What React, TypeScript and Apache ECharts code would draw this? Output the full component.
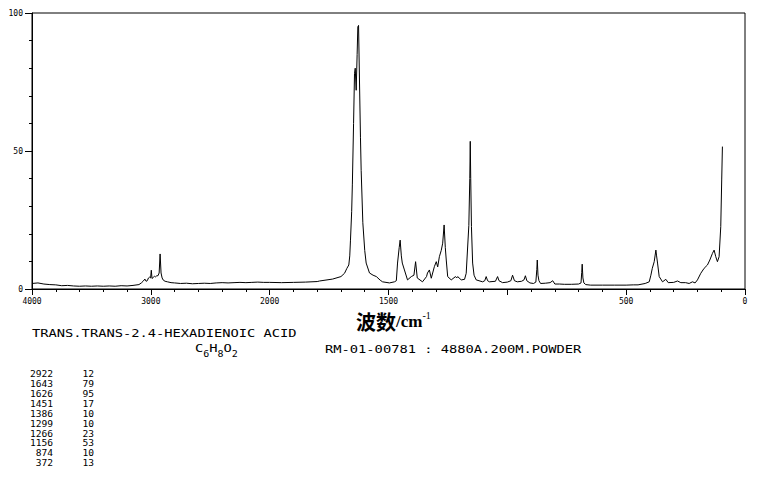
import React, { useEffect, useRef } from 'react';
import * as echarts from 'echarts';

// Raman spectrum (wavenumber cm-1, relative intensity)
const spectrumWn = [
  4000, 3950, 3900, 3850, 3800, 3750, 3700, 3650, 3600, 3550, 3500, 3450, 3400, 3350, 3300, 3250, 3200, 3150, 3100,
  3080, 3065, 3050, 3040, 3030, 3020, 3010, 3002, 2996, 2990, 2980, 2970, 2960, 2950, 2940, 2930, 2922, 2914, 2905,
  2895, 2880, 2860, 2830, 2800, 2750, 2700, 2650, 2600, 2550, 2500, 2450, 2400, 2350, 2300, 2250, 2200, 2150, 2100,
  2050, 2000, 1950, 1900, 1850, 1800, 1790, 1735, 1700, 1685, 1675, 1667, 1663, 1660, 1655, 1652, 1647, 1643, 1640,
  1636, 1632, 1629, 1626, 1622, 1618, 1615, 1608, 1600, 1594, 1580, 1565, 1551, 1535, 1525, 1496, 1475, 1467, 1462,
  1455, 1451, 1446, 1442, 1433, 1420, 1404, 1393, 1386, 1379, 1357, 1340, 1336, 1328, 1320, 1307, 1299, 1293, 1286,
  1278, 1272, 1266, 1261, 1257, 1251, 1236, 1218, 1213, 1209, 1194, 1180, 1173, 1162, 1158, 1156, 1154, 1151, 1146,
  1140, 1131, 1104, 1095, 1089, 1083, 1075, 1050, 1041, 1035, 1020, 1000, 985, 978, 970, 958, 940, 930, 924, 918,
  905, 890, 880, 876, 874, 871, 867, 860, 840, 820, 809, 800, 780, 760, 730, 700, 690, 687, 685, 682, 678, 670, 650,
  600, 550, 500, 470, 450, 420, 403, 396, 390, 382, 375, 372, 368, 361, 347, 333, 323, 300, 284, 270, 250, 235, 221,
  210, 200, 186, 172, 158, 148, 137, 130, 123, 116, 109, 102, 98, 95,
];
const spectrumInt = [
  2.0, 2.2, 1.8, 1.6, 1.5, 1.2, 1.3, 1.1, 1.0, 1.1, 1.0, 1.1, 1.0, 1.1, 1.0, 1.2, 1.1, 1.3, 1.6,
  2.2, 2.8, 3.6, 2.8, 3.0, 4.0, 4.3, 4.0, 6.8, 3.8, 4.2, 4.6, 4.4, 4.8, 4.8, 5.8, 12.7, 5.8, 4.0,
  3.2, 2.8, 2.6, 2.3, 2.2, 2.0, 2.1, 1.9, 2.0, 2.1, 2.0, 2.2, 2.3, 2.2, 2.3, 2.4, 2.3, 2.4, 2.5,
  2.4, 2.4, 2.3, 2.4, 2.5, 2.7, 2.9, 3.6, 4.5, 5.7, 7.5, 8.7, 12, 17.7, 28, 38, 60, 78, 80,
  72, 85, 95, 95.5, 75, 55, 43, 24, 14, 9.4, 5.8, 5.0, 4.5, 3.2, 2.6, 2.2, 2.6, 3.0, 9.4,
  15, 17.7, 12, 9.4, 6.9, 3.3, 4.5, 5.0, 9.9, 4.0, 2.6, 4.5, 5.8, 6.9, 3.9, 8.1, 9.9, 8.0, 11.7,
  14, 16.6, 23.2, 15, 10.5, 4.5, 3.3, 4.5, 4.0, 4.5, 3.3, 3.5, 5.7, 23, 40, 53.5, 40, 22.6, 9.4,
  5.0, 3.3, 2.6, 3.0, 4.5, 3.0, 2.6, 2.8, 4.5, 3.0, 2.3, 2.5, 3.0, 5.0, 3.0, 2.6, 2.8, 3.3, 4.8, 3.0,
  2.2, 2.0, 2.5, 7, 10.5, 5, 3.0, 2.0, 2.1, 2.3, 3.0, 1.8, 1.8, 1.7, 1.7, 1.8, 2.2, 6, 9.0, 4, 2.2, 1.6, 1.4,
  1.4, 1.4, 1.4, 1.5, 1.5, 2.0, 2.6, 5.0, 7.5, 9.9, 14.1, 12, 9.4, 4.5, 2.6, 3.5, 2.3, 2.4, 2.9, 2.3, 2.3, 2.0, 2.6,
  2.2, 3.3, 5.7, 7.5, 8.7, 10.5, 12.9, 14.1, 11.7, 9.9, 11.7, 22.6, 39.5, 51.6,
];

const xTickLabels = [4000, 3000, 2000, 1500, 500, 0];
const yTickLabels = [0, 50, 100];

const peakWn = ['2922', '1643', '1626', '1451', '1386', '1299', '1266', '1156', '874', '372'];
const peakInt = ['12', '79', '95', '17', '10', '10', '23', '53', '10', '13'];

const compoundName = 'TRANS.TRANS-2.4-HEXADIENOIC ACID';
const formulaParts = [
  ['C', '6'],
  ['H', '8'],
  ['O', '2'],
];
const sampleInfo = 'RM-01-00781 : 4880A.200M.POWDER';

// The instrument's axis: 4000–2000 cm-1 drawn at half the scale of 2000–0 cm-1.
const toAxis = (wn: number) => (wn >= 2000 ? (4000 - wn) / 2 : 3000 - wn);
const fromAxis = (d: number) => (d <= 1000 ? 4000 - 2 * d : 3000 - d);

const MONO = '"DejaVu Sans Mono", "Liberation Mono", monospace';

export default function App() {
  const ref = useRef<HTMLDivElement>(null);

  useEffect(() => {
    if (!ref.current) return;
    const chart = echarts.init(ref.current, null, { renderer: 'svg' });

    const formulaRich = formulaParts.map(([el, n]) => `{m|${el}}{s|${n}}`).join('');

    const option: any = {
      animation: false,
      backgroundColor: '#fff',
      grid: {
        left: 32,
        top: 13,
        width: 713,
        height: 276,
        show: true,
        borderColor: '#000',
        borderWidth: 1,
        backgroundColor: 'transparent',
      },
      xAxis: {
        type: 'value',
        min: 0,
        max: 3000,
        interval: 500,
        axisLine: { show: true, onZero: false, lineStyle: { color: '#000', width: 1 } },
        axisTick: { show: true, length: 6, lineStyle: { color: '#000', width: 1 } },
        minorTick: { show: true, splitNumber: 5, length: 3, lineStyle: { color: '#000', width: 1 } },
        axisLabel: {
          show: true,
          hideOverlap: false,
          formatter: (v: number) => {
            const wn = Math.round(fromAxis(v));
            return xTickLabels.indexOf(wn) >= 0 ? String(wn) : '';
          },
          fontFamily: MONO,
          fontSize: 8,
          color: '#000',
          margin: 8,
        },
        splitLine: { show: false },
        minorSplitLine: { show: false },
      },
      yAxis: {
        type: 'value',
        min: 0,
        max: 100,
        interval: 50,
        axisLine: { show: true, lineStyle: { color: '#000', width: 1 } },
        axisTick: { show: true, length: 7, lineStyle: { color: '#000', width: 1 } },
        minorTick: { show: true, splitNumber: 5, length: 3, lineStyle: { color: '#000', width: 1 } },
        axisLabel: {
          customValues: yTickLabels,
          fontFamily: MONO,
          fontSize: 8,
          color: '#000',
          margin: 9,
        },
        splitLine: { show: false },
        minorSplitLine: { show: false },
      },
      series: [
        {
          type: 'line',
          data: spectrumWn.map((w, i) => [toAxis(w), spectrumInt[i]]),
          showSymbol: false,
          symbol: 'none',
          lineStyle: { color: '#000', width: 1 },
          silent: true,
        },
      ],
      graphic: [
        {
          type: 'text',
          x: 356,
          y: 310,
          style: {
            text: '{a|波数}{b|/cm}{c|-1}',
            fill: '#000',
            verticalAlign: 'top',
            rich: {
              a: { fontFamily: '"Noto Sans CJK SC"', fontWeight: 'bold', fontSize: 20, fill: '#000', lineHeight: 22 },
              b: { fontFamily: '"Liberation Serif", serif', fontWeight: 'bold', fontSize: 17, fill: '#000', lineHeight: 22 },
              c: { fontFamily: '"Liberation Serif", serif', fontSize: 10, fill: '#000', verticalAlign: 'top', lineHeight: 12 },
            },
          },
        },
        {
          type: 'text',
          x: 32,
          y: 333,
          scaleX: 1.25,
          style: { text: compoundName, fontFamily: MONO, fontSize: 11, fill: '#000', align: 'left', verticalAlign: 'middle' },
        },
        {
          type: 'text',
          x: 195,
          y: 343,
          scaleX: 1.25,
          style: {
            text: formulaRich,
            fill: '#000',
            align: 'left',
            verticalAlign: 'top',
            rich: {
              m: { fontFamily: MONO, fontSize: 11, fill: '#000', lineHeight: 15, verticalAlign: 'top' },
              s: { fontFamily: MONO, fontSize: 8, fill: '#000', lineHeight: 8, verticalAlign: 'bottom' },
            },
          },
        },
        {
          type: 'text',
          x: 325,
          y: 349,
          scaleX: 1.25,
          style: { text: sampleInfo, fontFamily: MONO, fontSize: 11, fill: '#000', align: 'left', verticalAlign: 'middle' },
        },
        {
          type: 'text',
          x: 53,
          y: 369.5,
          scaleX: 1.2,
          style: {
            text: peakWn.join('\n'),
            fontFamily: MONO,
            fontSize: 8,
            lineHeight: 9.9,
            fill: '#000',
            align: 'right',
            verticalAlign: 'top',
          },
        },
        {
          type: 'text',
          x: 94,
          y: 369.5,
          scaleX: 1.2,
          style: {
            text: peakInt.join('\n'),
            fontFamily: MONO,
            fontSize: 8,
            lineHeight: 9.9,
            fill: '#000',
            align: 'right',
            verticalAlign: 'top',
          },
        },
      ],
    };

    chart.setOption(option);
    return () => chart.dispose();
  }, []);

  return (
    <div
      ref={ref}
      style={{ position: 'absolute', left: 0, top: 0, width: 765, height: 477, background: '#fff' }}
    />
  );
}
